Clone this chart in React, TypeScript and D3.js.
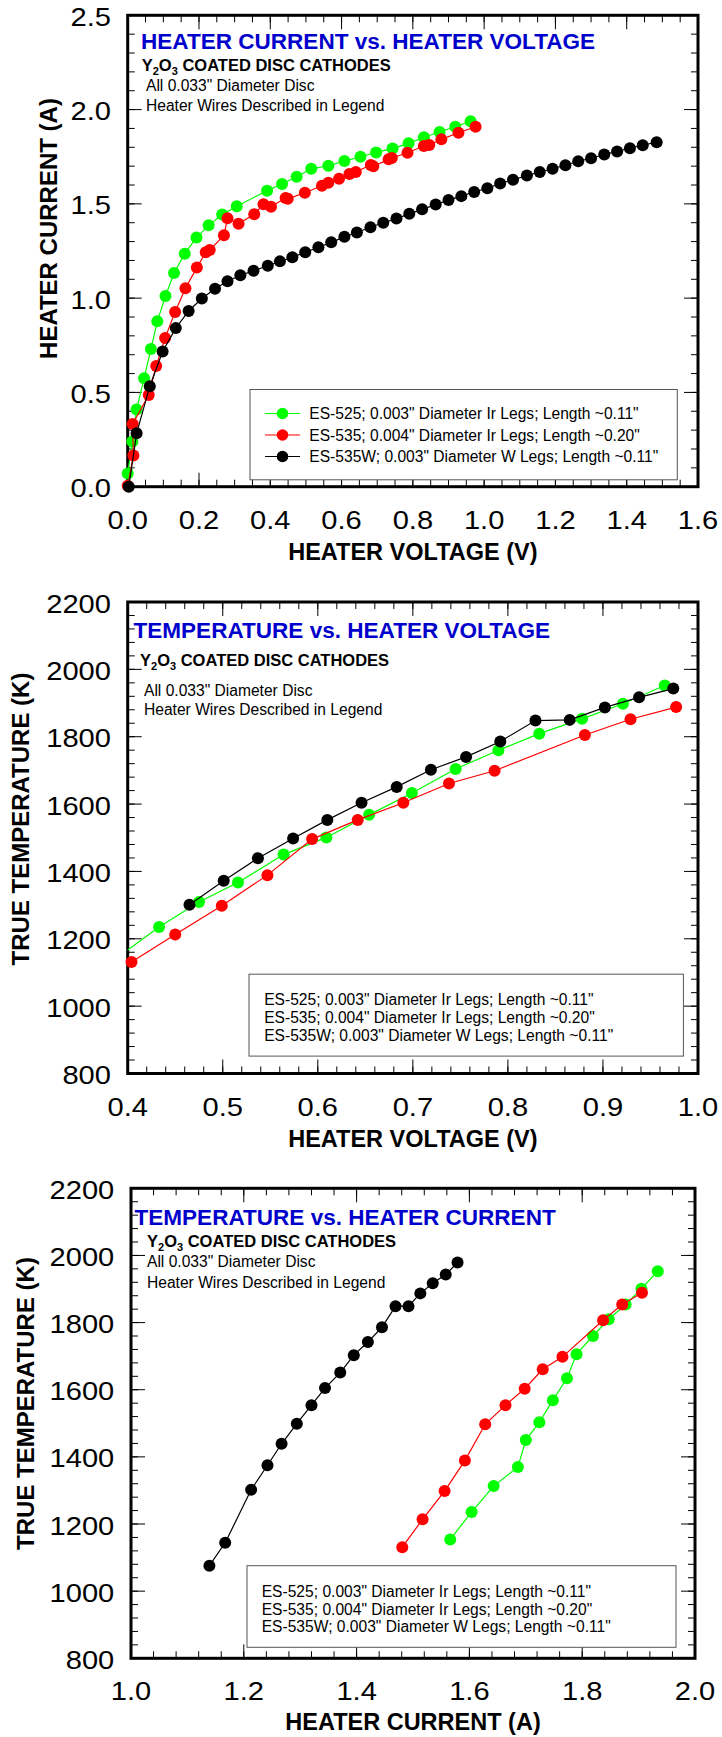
import React from 'react';
import * as d3 from 'd3';

const FONT = "'Liberation Sans', Arial, Helvetica, sans-serif";

// ---------- DATA ----------
// Chart 1: heater current (A) vs heater voltage (V)
const ivGreen: [number, number][] = [
  [0.0, 0.07], [0.013, 0.24], [0.025, 0.41], [0.046, 0.575], [0.065, 0.73], [0.083, 0.877],
  [0.106, 1.011], [0.13, 1.133], [0.16, 1.236], [0.193, 1.321], [0.227, 1.386], [0.265, 1.443],
  [0.306, 1.487], [0.391, 1.57], [0.433, 1.605], [0.474, 1.644], [0.515, 1.686], [0.563, 1.702],
  [0.608, 1.727], [0.653, 1.75], [0.697, 1.773], [0.743, 1.793], [0.788, 1.821], [0.831, 1.853],
  [0.875, 1.881], [0.919, 1.909], [0.962, 1.938],
];
const ivRed: [number, number][] = [
  [0.0, 0.005], [0.016, 0.165], [0.014, 0.333], [0.059, 0.486], [0.08, 0.64], [0.105, 0.789],
  [0.133, 0.927], [0.162, 1.052], [0.194, 1.162], [0.219, 1.243], [0.23, 1.255], [0.27, 1.333],
  [0.28, 1.424], [0.311, 1.394], [0.355, 1.445], [0.381, 1.498], [0.402, 1.485], [0.443, 1.531],
  [0.449, 1.527], [0.497, 1.559], [0.545, 1.596], [0.563, 1.612], [0.593, 1.633], [0.622, 1.658],
  [0.64, 1.669], [0.682, 1.706], [0.689, 1.699], [0.732, 1.736], [0.741, 1.743], [0.785, 1.771],
  [0.831, 1.807], [0.846, 1.812], [0.88, 1.842], [0.928, 1.877], [0.976, 1.909],
];
const ivBlack: [number, number][] = [
  [0.003, 0.0], [0.025, 0.283], [0.062, 0.533], [0.098, 0.717], [0.135, 0.841], [0.171, 0.932],
  [0.208, 0.998], [0.245, 1.05], [0.28, 1.09], [0.316, 1.121], [0.353, 1.145], [0.393, 1.172],
  [0.427, 1.195], [0.462, 1.217], [0.498, 1.243], [0.535, 1.27], [0.571, 1.296], [0.608, 1.325],
  [0.643, 1.348], [0.681, 1.376], [0.717, 1.4], [0.754, 1.422], [0.79, 1.447], [0.826, 1.471],
  [0.864, 1.496], [0.9, 1.52], [0.936, 1.541], [0.972, 1.563], [1.009, 1.583], [1.045, 1.608],
  [1.081, 1.628], [1.12, 1.65], [1.156, 1.669], [1.192, 1.686], [1.228, 1.705], [1.264, 1.726],
  [1.3, 1.742], [1.337, 1.762], [1.373, 1.778], [1.409, 1.795], [1.445, 1.811], [1.484, 1.827],
];

// Chart 2: true temperature (K) vs heater voltage (V)
const tvGreen: [number, number][] = [
  [0.394, 1154], [0.433, 1235], [0.475, 1309], [0.516, 1367], [0.564, 1450], [0.609, 1501],
  [0.654, 1568], [0.699, 1633], [0.745, 1704], [0.79, 1760], [0.833, 1809], [0.878, 1853],
  [0.921, 1898], [0.965, 1952],
];
const tvRed: [number, number][] = [
  [0.404, 1131], [0.45, 1213], [0.499, 1298], [0.547, 1389], [0.594, 1496], [0.642, 1553],
  [0.69, 1604], [0.738, 1661], [0.786, 1699], [0.881, 1805], [0.929, 1852], [0.977, 1888],
];
const tvBlack: [number, number][] = [
  [0.465, 1301], [0.501, 1372], [0.537, 1439], [0.574, 1498], [0.61, 1553], [0.646, 1604],
  [0.683, 1651], [0.719, 1702], [0.756, 1740], [0.792, 1786], [0.829, 1848], [0.865, 1850],
  [0.902, 1887], [0.938, 1917], [0.974, 1943],
];

// Chart 3: true temperature (K) vs heater current (A)
const tiGreen: [number, number][] = [
  [1.566, 1154], [1.604, 1236], [1.643, 1313], [1.686, 1370], [1.7, 1450], [1.724, 1503],
  [1.748, 1569], [1.773, 1634], [1.79, 1706], [1.819, 1760], [1.847, 1810], [1.877, 1854],
  [1.905, 1901], [1.934, 1953],
];
const tiRed: [number, number][] = [
  [1.481, 1131], [1.517, 1214], [1.556, 1298], [1.592, 1389], [1.628, 1497], [1.664, 1554],
  [1.698, 1603], [1.73, 1661], [1.765, 1698], [1.837, 1807], [1.871, 1854], [1.906, 1889],
];
const tiBlack: [number, number][] = [
  [1.139, 1076], [1.167, 1144], [1.213, 1302], [1.242, 1375], [1.267, 1439], [1.294, 1499],
  [1.32, 1554], [1.344, 1605], [1.371, 1651], [1.395, 1703], [1.42, 1742], [1.445, 1786],
  [1.469, 1849], [1.492, 1849], [1.513, 1887], [1.535, 1917], [1.558, 1943], [1.579, 1979],
];

const seriesColors = ['#00ff00', '#ff0000', '#000000'];
const legendLabels = [
  'ES-525; 0.003" Diameter Ir Legs; Length ~0.11"',
  'ES-535; 0.004" Diameter Ir Legs; Length ~0.20"',
  'ES-535W; 0.003" Diameter W Legs; Length ~0.11"',
];
const chartTitles = [
  'HEATER CURRENT vs. HEATER VOLTAGE',
  'TEMPERATURE vs. HEATER VOLTAGE',
  'TEMPERATURE vs. HEATER CURRENT',
];
const xTitles = ['HEATER VOLTAGE (V)', 'HEATER VOLTAGE (V)', 'HEATER CURRENT (A)'];
const yTitles = ['HEATER CURRENT (A)', 'TRUE TEMPERATURE (K)', 'TRUE TEMPERATURE (K)'];
const subLine1 = 'All 0.033" Diameter Disc';
const subLine2 = 'Heater Wires Described in Legend';

// ---------- HELPERS ----------
type Pt = [number, number];

function Txt(props: {
  x: number; y: number; size: number; weight?: string | number; fill?: string;
  anchor?: 'start' | 'middle' | 'end'; sx?: number; rot?: number; children: React.ReactNode;
}) {
  const { x, y, size, weight = 'normal', fill = '#000', anchor = 'start', sx = 1, rot = 0, children } = props;
  let tr = `translate(${x},${y})`;
  if (rot) tr += ` rotate(${rot})`;
  if (sx !== 1) tr += ` scale(${sx},1)`;
  return (
    <text transform={tr} fontSize={size} fontWeight={weight} fill={fill} textAnchor={anchor} fontFamily={FONT}>
      {children}
    </text>
  );
}

function steps(d0: number, d1: number, step: number): number[] {
  const n = Math.round((d1 - d0) / step);
  return d3.range(0, n + 1).map((i) => d0 + i * step);
}

interface ChartCfg {
  id: string;
  box: { l: number; r: number; t: number; b: number };
  xDomain: [number, number];
  yDomain: [number, number];
  xMajor: number; xMinor: number; yMajor: number; yMinor: number;
  xFmt: (v: number) => string; yFmt: (v: number) => string;
  series: Pt[][];
  title: string; xTitle: string; yTitle: string;
  titlePos: [number, number];
  subPos: [number, number];
  line1Pos: [number, number];
  line2Pos: [number, number];
  yTitlePos: [number, number];
  xTitleDy: number;
  legend: { l: number; r: number; t: number; b: number; textX: number; rows: number[]; markers: boolean };
}

function Chart({ c }: { c: ChartCfg }) {
  const { l, r, t, b } = c.box;
  const x = d3.scaleLinear().domain(c.xDomain).range([l, r]);
  const y = d3.scaleLinear().domain(c.yDomain).range([b, t]);
  const line = d3.line<Pt>().x((d) => x(d[0])).y((d) => y(d[1]));
  const xMaj = steps(c.xDomain[0], c.xDomain[1], c.xMajor);
  const xMin = steps(c.xDomain[0], c.xDomain[1], c.xMinor);
  const yMaj = steps(c.yDomain[0], c.yDomain[1], c.yMajor);
  const yMin = steps(c.yDomain[0], c.yDomain[1], c.yMinor);
  const minL = 7, majL = 14;
  const inDom = (d: Pt) =>
    d[0] >= c.xDomain[0] - 1e-9 && d[0] <= c.xDomain[1] + 1e-9 && d[1] >= c.yDomain[0] - 1e-9 && d[1] <= c.yDomain[1] + 1e-9;
  const lg = c.legend;
  const tickSize = 26;
  const tickSx = 1.12;
  return (
    <g>
      <defs>
        <clipPath id={`clip-${c.id}`}>
          <rect x={l} y={t} width={r - l} height={b - t} />
        </clipPath>
      </defs>
      {/* ticks */}
      <g stroke="#000" strokeWidth={1}>
        {xMin.map((v, i) => (
          <g key={`xm${i}`}>
            <line x1={x(v)} x2={x(v)} y1={b} y2={b - minL} />
            <line x1={x(v)} x2={x(v)} y1={t} y2={t + minL} />
          </g>
        ))}
        {xMaj.map((v, i) => (
          <g key={`xM${i}`}>
            <line x1={x(v)} x2={x(v)} y1={b} y2={b - majL} />
            <line x1={x(v)} x2={x(v)} y1={t} y2={t + majL} />
          </g>
        ))}
        {yMin.map((v, i) => (
          <g key={`ym${i}`}>
            <line x1={l} x2={l + minL} y1={y(v)} y2={y(v)} />
            <line x1={r} x2={r - minL} y1={y(v)} y2={y(v)} />
          </g>
        ))}
        {yMaj.map((v, i) => (
          <g key={`yM${i}`}>
            <line x1={l} x2={l + majL} y1={y(v)} y2={y(v)} />
            <line x1={r} x2={r - majL} y1={y(v)} y2={y(v)} />
          </g>
        ))}
      </g>
      {/* frame */}
      <rect x={l} y={t} width={r - l} height={b - t} fill="none" stroke="#000" strokeWidth={3} />
      {/* tick labels */}
      {xMaj.map((v, i) => (
        <Txt key={`xl${i}`} x={x(v)} y={b + 42} size={tickSize} anchor="middle" sx={tickSx}>
          {c.xFmt(v)}
        </Txt>
      ))}
      {yMaj.map((v, i) => (
        <Txt key={`yl${i}`} x={l - 16.7} y={y(v) + 10.5} size={tickSize} anchor="end" sx={tickSx}>
          {c.yFmt(v)}
        </Txt>
      ))}
      {/* axis titles */}
      <Txt x={(l + r) / 2} y={b + c.xTitleDy} size={23.5} weight="bold" anchor="middle">
        {c.xTitle}
      </Txt>
      <Txt x={c.yTitlePos[0]} y={c.yTitlePos[1]} size={24} weight="bold" anchor="middle" rot={-90}>
        {c.yTitle}
      </Txt>
      {/* in-plot texts */}
      <Txt x={c.titlePos[0]} y={c.titlePos[1]} size={22} weight="bold" fill="#0000cc" sx={1.025}>
        {c.title}
      </Txt>
      <text x={c.subPos[0]} y={c.subPos[1]} fontSize={16.5} fontWeight="bold" fontFamily={FONT} fill="#000">
        <tspan>Y</tspan>
        <tspan fontSize={11} dy={4}>2</tspan>
        <tspan dy={-4}>O</tspan>
        <tspan fontSize={11} dy={4}>3</tspan>
        <tspan dy={-4}>{' COATED DISC CATHODES'}</tspan>
      </text>
      <Txt x={c.line1Pos[0]} y={c.line1Pos[1]} size={15.6}>{subLine1}</Txt>
      <Txt x={c.line2Pos[0]} y={c.line2Pos[1]} size={15.6}>{subLine2}</Txt>
      {/* legend */}
      <rect x={lg.l} y={lg.t} width={lg.r - lg.l} height={lg.b - lg.t} fill="#fff" stroke="#555" strokeWidth={1} />
      {legendLabels.map((lab, i) => (
        <g key={`lg${i}`}>
          {lg.markers && (
            <g>
              <line x1={lg.l + 15} x2={lg.l + 50} y1={lg.rows[i]} y2={lg.rows[i]} stroke={seriesColors[i]} strokeWidth={1.2} />
              <circle cx={lg.l + 32.5} cy={lg.rows[i]} r={5.8} fill={seriesColors[i]} />
            </g>
          )}
          <Txt x={lg.textX} y={lg.rows[i] + 5.6} size={15.6}>{lab}</Txt>
        </g>
      ))}
      {/* data */}
      {c.series.map((s, i) => (
        <g key={`s${i}`}>
          <path d={line(s) || ''} fill="none" stroke={seriesColors[i]} strokeWidth={1.2} clipPath={`url(#clip-${c.id})`} />
          {s.filter(inDom).map((d, j) => (
            <circle key={j} cx={x(d[0])} cy={y(d[1])} r={6} fill={seriesColors[i]} />
          ))}
        </g>
      ))}
    </g>
  );
}

const f1 = d3.format('.1f');
const f0 = d3.format('d');

const charts: ChartCfg[] = [
  {
    id: 'c1',
    box: { l: 127.7, r: 698, t: 15.3, b: 486.7 },
    xDomain: [0, 1.6], yDomain: [0, 2.5],
    xMajor: 0.2, xMinor: 0.05, yMajor: 0.5, yMinor: 0.1,
    xFmt: f1, yFmt: f1,
    series: [ivGreen, ivRed, ivBlack],
    title: chartTitles[0], xTitle: xTitles[0], yTitle: yTitles[0],
    titlePos: [141, 49.3], subPos: [141.7, 70.7], line1Pos: [146, 91], line2Pos: [146, 111],
    yTitlePos: [57, 228.5], xTitleDy: 73,
    legend: { l: 250, r: 677.3, t: 389.5, b: 479.8, textX: 309.3, rows: [413.5, 435, 456.5], markers: true },
  },
  {
    id: 'c2',
    box: { l: 127.7, r: 698, t: 602, b: 1073.5 },
    xDomain: [0.4, 1.0], yDomain: [800, 2200],
    xMajor: 0.1, xMinor: 0.02, yMajor: 200, yMinor: 40,
    xFmt: f1, yFmt: f0,
    series: [tvGreen, tvRed, tvBlack],
    title: chartTitles[1], xTitle: xTitles[1], yTitle: yTitles[1],
    titlePos: [133.5, 638], subPos: [140, 665.5], line1Pos: [144, 696], line2Pos: [144, 715],
    yTitlePos: [28.8, 819], xTitleDy: 73,
    legend: { l: 249, r: 683.4, t: 974.2, b: 1056.1, textX: 264.2, rows: [999.7, 1017.5, 1035.5], markers: false },
  },
  {
    id: 'c3',
    box: { l: 131, r: 695, t: 1188.3, b: 1658.3 },
    xDomain: [1.0, 2.0], yDomain: [800, 2200],
    xMajor: 0.2, xMinor: 0.04, yMajor: 200, yMinor: 40,
    xFmt: f1, yFmt: f0,
    series: [tiGreen, tiRed, tiBlack],
    title: chartTitles[2], xTitle: xTitles[2], yTitle: yTitles[2],
    titlePos: [134.5, 1225], subPos: [147, 1247], line1Pos: [147, 1267], line2Pos: [147, 1288],
    yTitlePos: [34, 1403.5], xTitleDy: 72,
    legend: { l: 247, r: 676, t: 1565.7, b: 1647.3, textX: 261.7, rows: [1591.7, 1609.2, 1626.7], markers: false },
  },
];

export default function App() {
  return (
    <svg
      width={722}
      height={1737}
      viewBox="0 0 722 1737"
      style={{ position: 'absolute', left: 0, top: 0, background: '#fff' }}
    >
      <rect x={0} y={0} width={722} height={1737} fill="#fff" />
      {charts.map((c) => (
        <Chart key={c.id} c={c} />
      ))}
    </svg>
  );
}
